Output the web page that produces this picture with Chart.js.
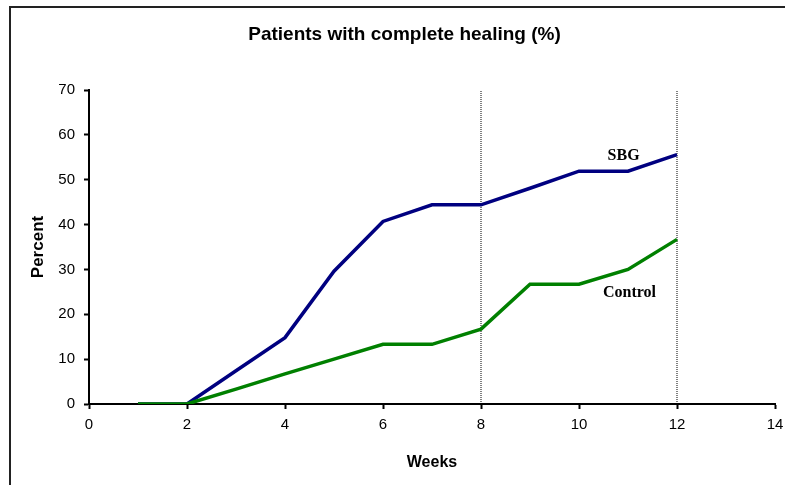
<!DOCTYPE html>
<html><head><meta charset="utf-8">
<script src="https://cdn.jsdelivr.net/npm/chart.js@4.4.0/dist/chart.umd.min.js"></script>
<style>html,body{margin:0;padding:0;background:#fff;} #wrap{width:785px;height:485px;position:relative;}</style>
</head><body><div id="wrap"><canvas id="c" width="785" height="485"></canvas></div>
<script>
const weeks = [1,2,3,4,5,6,7,8,9,10,11,12];
const sbg = [0,0,7.4,14.8,29.6,40.7,44.4,44.4,48.1,51.9,51.9,55.6];
const control = [0,0,3.3,6.7,10,13.3,13.3,16.7,26.7,26.7,30,36.7];
const xTicks = [0,2,4,6,8,10,12,14];
const yTicks = [0,10,20,30,40,50,60,70];
const markerWeeks = [8,12];
const seriesNames = ['SBG','Control'];

const SANS = '"Liberation Sans", Arial, sans-serif';
const SERIF = '"Liberation Serif", "Times New Roman", serif';

const toXY = (ys) => weeks.map((w,i) => ({x:w, y:ys[i]}));

const markerSets = markerWeeks.map(w => ({
  label: 'marker' + w,
  data: [{x:w, y:yTicks[0]}, {x:w, y:yTicks[yTicks.length-1]}],
  borderColor: '#000', borderWidth: 1, borderDash: [1,1],
  pointRadius: 0, order: 5
}));

const framePlugin = {
  id: 'frame',
  beforeDraw(chart) {
    const ctx = chart.ctx;
    ctx.save();
    ctx.fillStyle = '#fff';
    ctx.fillRect(0,0,chart.width,chart.height);
    ctx.strokeStyle = '#222';
    ctx.lineWidth = 2;
    ctx.strokeRect(10, 7, chart.width + 20, chart.height + 20);
    ctx.restore();
  }
};

const seriesLabelPlugin = {
  id: 'seriesLabels',
  afterDatasetsDraw(chart, args, opts) {
    const ctx = chart.ctx;
    const xs = chart.scales.x, ys = chart.scales.y;
    ctx.save();
    ctx.font = 'bold 16px ' + SERIF;
    ctx.fillStyle = '#000';
    ctx.textAlign = 'center';
    ctx.textBaseline = 'middle';
    opts.items.forEach(it => {
      ctx.fillText(it.text, xs.getPixelForValue(it.x), ys.getPixelForValue(it.y));
    });
    ctx.restore();
  }
};

new Chart(document.getElementById('c'), {
  type: 'line',
  data: {
    datasets: [
      { label: seriesNames[1], data: toXY(control), borderColor: '#008000', borderWidth: 3.5, pointRadius: 0, tension: 0, order: 1 },
      { label: seriesNames[0], data: toXY(sbg), borderColor: '#000080', borderWidth: 3.5, pointRadius: 0, tension: 0, order: 2 },
      ...markerSets
    ]
  },
  options: {
    responsive: false,
    animation: false,
    devicePixelRatio: 1,
    layout: { padding: { left: 34, right: 10, top: 0, bottom: 9 } },
    plugins: {
      legend: { display: false },
      tooltip: { enabled: false },
      title: {
        display: true,
        text: 'Patients with complete healing (%)',
        color: '#000',
        font: { family: SANS, size: 19, weight: 'bold' },
        padding: { top: 23.6, bottom: 43.6 }
      },
      seriesLabels: {
        items: [
          { text: seriesNames[0], x: 10.91, y: 55.3 },
          { text: seriesNames[1], x: 11.03, y: 24.7 }
        ]
      }
    },
    scales: {
      x: {
        type: 'linear', min: xTicks[0], max: xTicks[xTicks.length-1],
        afterBuildTicks: (s) => { s.ticks = xTicks.map(v => ({value: v})); },
        afterFit: (s) => { s.height = 72; s.paddingRight = 0; s.paddingLeft = 0; },
        ticks: { color: '#000', font: { family: SANS, size: 15 }, padding: 7, maxRotation: 0 },
        grid: { drawOnChartArea: false, drawTicks: true, tickLength: 5, tickWidth: 2, tickColor: '#000' },
        border: { display: true, color: '#000', width: 2 },
        title: { display: true, text: 'Weeks', color: '#000', font: { family: SANS, size: 16, weight: 'bold' }, padding: { top: 4, bottom: 4 } }
      },
      y: {
        min: yTicks[0], max: yTicks[yTicks.length-1],
        afterBuildTicks: (s) => { s.ticks = yTicks.map(v => ({value: v})); },
        afterFit: (s) => { s.width = 55; },
        ticks: { color: '#000', font: { family: SANS, size: 15 }, padding: 9 },
        grid: { drawOnChartArea: false, drawTicks: true, tickLength: 5, tickWidth: 2, tickColor: '#000' },
        border: { display: true, color: '#000', width: 2 },
        title: { display: true, text: 'Percent', color: '#000', font: { family: SANS, size: 17, weight: 'bold' }, padding: { top: -6, bottom: 4 } }
      }
    }
  },
  plugins: [framePlugin, seriesLabelPlugin]
});
</script>
</body></html>
